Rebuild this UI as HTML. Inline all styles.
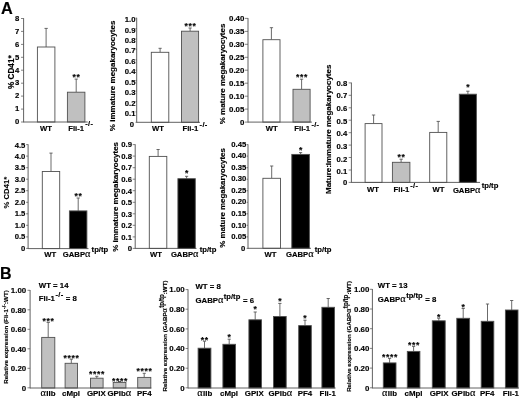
<!DOCTYPE html>
<html><head><meta charset="utf-8"><title>Figure</title>
<style>
html,body{margin:0;padding:0;background:#fff;}
svg{display:block;}
svg text{font-family:"Liberation Sans",sans-serif;font-weight:bold;fill:#000;stroke:#000;stroke-width:0.15px;}
</style></head><body>
<svg width="520" height="398" viewBox="0 0 520 398">
<rect width="520" height="398" fill="#fff"/>
<text x="1.1" y="13.6" font-size="16.3" text-anchor="start" >A</text>
<text x="0.1" y="279.4" font-size="16" text-anchor="start" >B</text>
<line x1="21.0" y1="18.5" x2="23.6" y2="18.5" stroke="#666" stroke-width="0.8"/>
<text x="19.3" y="20.8" font-size="7.7" text-anchor="end" >8</text>
<line x1="21.0" y1="31.4" x2="23.6" y2="31.4" stroke="#666" stroke-width="0.8"/>
<text x="19.3" y="33.7" font-size="7.7" text-anchor="end" >7</text>
<line x1="21.0" y1="44.4" x2="23.6" y2="44.4" stroke="#666" stroke-width="0.8"/>
<text x="19.3" y="46.6" font-size="7.7" text-anchor="end" >6</text>
<line x1="21.0" y1="57.3" x2="23.6" y2="57.3" stroke="#666" stroke-width="0.8"/>
<text x="19.3" y="59.6" font-size="7.7" text-anchor="end" >5</text>
<line x1="21.0" y1="70.2" x2="23.6" y2="70.2" stroke="#666" stroke-width="0.8"/>
<text x="19.3" y="72.5" font-size="7.7" text-anchor="end" >4</text>
<line x1="21.0" y1="83.2" x2="23.6" y2="83.2" stroke="#666" stroke-width="0.8"/>
<text x="19.3" y="85.4" font-size="7.7" text-anchor="end" >3</text>
<line x1="21.0" y1="96.1" x2="23.6" y2="96.1" stroke="#666" stroke-width="0.8"/>
<text x="19.3" y="98.4" font-size="7.7" text-anchor="end" >2</text>
<line x1="21.0" y1="109.1" x2="23.6" y2="109.1" stroke="#666" stroke-width="0.8"/>
<text x="19.3" y="111.3" font-size="7.7" text-anchor="end" >1</text>
<line x1="21.0" y1="122.0" x2="23.6" y2="122.0" stroke="#666" stroke-width="0.8"/>
<text x="19.3" y="124.3" font-size="7.7" text-anchor="end" >0</text>
<line x1="46.1" y1="28.4" x2="46.1" y2="47.0" stroke="#505050" stroke-width="0.85"/>
<line x1="44.5" y1="28.4" x2="47.8" y2="28.4" stroke="#505050" stroke-width="0.85"/>
<rect x="37.4" y="47.0" width="17.5" height="75.0" fill="#fff" stroke="#505050" stroke-width="0.9"/>
<line x1="76.2" y1="79.1" x2="76.2" y2="92.2" stroke="#505050" stroke-width="0.85"/>
<line x1="74.6" y1="79.1" x2="77.8" y2="79.1" stroke="#505050" stroke-width="0.85"/>
<rect x="67.4" y="92.2" width="17.5" height="29.8" fill="#c0c0c0" stroke="#505050" stroke-width="0.9"/>
<text x="76.5" y="79.9" font-size="8.6" text-anchor="middle" letter-spacing="0.65" stroke="none">**</text>
<line x1="23.6" y1="18.2" x2="23.6" y2="122.4" stroke="#505050" stroke-width="0.9"/>
<line x1="23.6" y1="122.0" x2="87.7" y2="122.0" stroke="#505050" stroke-width="0.9"/>
<text transform="translate(13.6,72.2) rotate(-90)" font-size="8.2" text-anchor="middle">% CD41*</text>
<text x="45.9" y="130.5" font-size="7.7" text-anchor="middle" >WT</text>
<text x="68.2" y="130.5" font-size="7.7" text-anchor="start" >Fli-1<tspan dy="-4.3" dx="1.3" font-size="7.5" letter-spacing="0.3">-/-</tspan></text>
<line x1="135.5" y1="18.1" x2="136.7" y2="18.1" stroke="#666" stroke-width="0.8"/>
<text x="135.5" y="22.2" font-size="7.7" text-anchor="end" >1.0</text>
<line x1="135.5" y1="28.5" x2="136.7" y2="28.5" stroke="#666" stroke-width="0.8"/>
<text x="135.5" y="32.6" font-size="7.7" text-anchor="end" >0.9</text>
<line x1="135.5" y1="38.9" x2="136.7" y2="38.9" stroke="#666" stroke-width="0.8"/>
<text x="135.5" y="43.0" font-size="7.7" text-anchor="end" >0.8</text>
<line x1="135.5" y1="49.4" x2="136.7" y2="49.4" stroke="#666" stroke-width="0.8"/>
<text x="135.5" y="53.4" font-size="7.7" text-anchor="end" >0.7</text>
<line x1="135.5" y1="59.8" x2="136.7" y2="59.8" stroke="#666" stroke-width="0.8"/>
<text x="135.5" y="63.8" font-size="7.7" text-anchor="end" >0.6</text>
<line x1="135.5" y1="70.2" x2="136.7" y2="70.2" stroke="#666" stroke-width="0.8"/>
<text x="135.5" y="74.3" font-size="7.7" text-anchor="end" >0.4</text>
<line x1="135.5" y1="80.6" x2="136.7" y2="80.6" stroke="#666" stroke-width="0.8"/>
<text x="135.5" y="84.7" font-size="7.7" text-anchor="end" >0.5</text>
<line x1="135.5" y1="91.0" x2="136.7" y2="91.0" stroke="#666" stroke-width="0.8"/>
<text x="135.5" y="95.1" font-size="7.7" text-anchor="end" >0.3</text>
<line x1="135.5" y1="101.5" x2="136.7" y2="101.5" stroke="#666" stroke-width="0.8"/>
<text x="135.5" y="105.5" font-size="7.7" text-anchor="end" >0.2</text>
<line x1="135.5" y1="111.9" x2="136.7" y2="111.9" stroke="#666" stroke-width="0.8"/>
<text x="135.5" y="115.9" font-size="7.7" text-anchor="end" >0.1</text>
<line x1="135.5" y1="122.3" x2="136.7" y2="122.3" stroke="#666" stroke-width="0.8"/>
<text x="134.1" y="126.6" font-size="7.7" text-anchor="end" >0</text>
<line x1="160.1" y1="48.3" x2="160.1" y2="52.3" stroke="#505050" stroke-width="0.85"/>
<line x1="158.5" y1="48.3" x2="161.7" y2="48.3" stroke="#505050" stroke-width="0.85"/>
<rect x="151.3" y="52.3" width="17.5" height="70.0" fill="#fff" stroke="#505050" stroke-width="0.9"/>
<line x1="190.1" y1="28.0" x2="190.1" y2="31.2" stroke="#505050" stroke-width="0.85"/>
<line x1="188.5" y1="28.0" x2="191.7" y2="28.0" stroke="#505050" stroke-width="0.85"/>
<rect x="181.5" y="31.2" width="17.1" height="91.1" fill="#c0c0c0" stroke="#505050" stroke-width="0.9"/>
<text x="190.4" y="28.6" font-size="8.6" text-anchor="middle" letter-spacing="0.65" stroke="none">***</text>
<line x1="136.7" y1="17.8" x2="136.7" y2="122.7" stroke="#505050" stroke-width="0.9"/>
<line x1="136.7" y1="122.3" x2="200.0" y2="122.3" stroke="#505050" stroke-width="0.9"/>
<text transform="translate(115.4,75.9) rotate(-90)" font-size="8.02" text-anchor="middle">% immature megakaryocytes</text>
<text x="158.0" y="130.8" font-size="7.7" text-anchor="middle" >WT</text>
<text x="182.5" y="130.8" font-size="7.7" text-anchor="start" >Fli-1<tspan dy="-4.3" dx="1.3" font-size="7.5" letter-spacing="0.3">-/-</tspan></text>
<line x1="245.0" y1="18.4" x2="248.0" y2="18.4" stroke="#666" stroke-width="0.8"/>
<text x="244.4" y="21.2" font-size="7.9" text-anchor="end" >0.40</text>
<line x1="245.0" y1="31.4" x2="248.0" y2="31.4" stroke="#666" stroke-width="0.8"/>
<text x="244.4" y="34.2" font-size="7.9" text-anchor="end" >0.35</text>
<line x1="245.0" y1="44.3" x2="248.0" y2="44.3" stroke="#666" stroke-width="0.8"/>
<text x="244.4" y="47.2" font-size="7.9" text-anchor="end" >0.30</text>
<line x1="245.0" y1="57.3" x2="248.0" y2="57.3" stroke="#666" stroke-width="0.8"/>
<text x="244.4" y="60.1" font-size="7.9" text-anchor="end" >0.25</text>
<line x1="245.0" y1="70.2" x2="248.0" y2="70.2" stroke="#666" stroke-width="0.8"/>
<text x="244.4" y="73.1" font-size="7.9" text-anchor="end" >0.20</text>
<line x1="245.0" y1="83.2" x2="248.0" y2="83.2" stroke="#666" stroke-width="0.8"/>
<text x="244.4" y="86.0" font-size="7.9" text-anchor="end" >0.15</text>
<line x1="245.0" y1="96.2" x2="248.0" y2="96.2" stroke="#666" stroke-width="0.8"/>
<text x="244.4" y="99.0" font-size="7.9" text-anchor="end" >0.10</text>
<line x1="245.0" y1="109.1" x2="248.0" y2="109.1" stroke="#666" stroke-width="0.8"/>
<text x="244.4" y="112.0" font-size="7.9" text-anchor="end" >0.05</text>
<line x1="245.0" y1="122.1" x2="248.0" y2="122.1" stroke="#666" stroke-width="0.8"/>
<text x="244.4" y="124.9" font-size="7.9" text-anchor="end" >0</text>
<line x1="271.4" y1="27.7" x2="271.4" y2="39.7" stroke="#505050" stroke-width="0.85"/>
<line x1="269.8" y1="27.7" x2="273.1" y2="27.7" stroke="#505050" stroke-width="0.85"/>
<rect x="262.9" y="39.7" width="17.1" height="82.4" fill="#fff" stroke="#505050" stroke-width="0.9"/>
<line x1="301.6" y1="79.2" x2="301.6" y2="89.3" stroke="#505050" stroke-width="0.85"/>
<line x1="299.9" y1="79.2" x2="303.2" y2="79.2" stroke="#505050" stroke-width="0.85"/>
<rect x="293.0" y="89.3" width="17.1" height="32.8" fill="#c0c0c0" stroke="#505050" stroke-width="0.9"/>
<text x="301.9" y="80.1" font-size="8.6" text-anchor="middle" letter-spacing="0.65" stroke="none">***</text>
<line x1="248.0" y1="18.1" x2="248.0" y2="122.5" stroke="#505050" stroke-width="0.9"/>
<line x1="248.0" y1="122.1" x2="311.9" y2="122.1" stroke="#505050" stroke-width="0.9"/>
<text transform="translate(225.3,73.9) rotate(-90)" font-size="7.98" text-anchor="middle">% mature megakaryocytes</text>
<text x="271.7" y="130.8" font-size="7.7" text-anchor="middle" >WT</text>
<text x="294.3" y="130.8" font-size="7.7" text-anchor="start" >Fli-1<tspan dy="-4.3" dx="1.3" font-size="7.5" letter-spacing="0.3">-/-</tspan></text>
<line x1="348.7" y1="82.9" x2="351.4" y2="82.9" stroke="#666" stroke-width="0.8"/>
<text x="347.2" y="85.8" font-size="7.7" text-anchor="end" >0.8</text>
<line x1="348.7" y1="95.3" x2="351.4" y2="95.3" stroke="#666" stroke-width="0.8"/>
<text x="347.2" y="98.4" font-size="7.7" text-anchor="end" >0.7</text>
<line x1="348.7" y1="107.8" x2="351.4" y2="107.8" stroke="#666" stroke-width="0.8"/>
<text x="347.2" y="111.1" font-size="7.7" text-anchor="end" >0.6</text>
<line x1="348.7" y1="120.2" x2="351.4" y2="120.2" stroke="#666" stroke-width="0.8"/>
<text x="347.2" y="123.7" font-size="7.7" text-anchor="end" >0.5</text>
<line x1="348.7" y1="132.7" x2="351.4" y2="132.7" stroke="#666" stroke-width="0.8"/>
<text x="347.2" y="136.4" font-size="7.7" text-anchor="end" >0.4</text>
<line x1="348.7" y1="145.1" x2="351.4" y2="145.1" stroke="#666" stroke-width="0.8"/>
<text x="347.2" y="149.1" font-size="7.7" text-anchor="end" >0.3</text>
<line x1="348.7" y1="157.5" x2="351.4" y2="157.5" stroke="#666" stroke-width="0.8"/>
<text x="347.2" y="161.7" font-size="7.7" text-anchor="end" >0.2</text>
<line x1="348.7" y1="170.0" x2="351.4" y2="170.0" stroke="#666" stroke-width="0.8"/>
<text x="347.2" y="174.4" font-size="7.7" text-anchor="end" >0.1</text>
<line x1="348.7" y1="182.4" x2="351.4" y2="182.4" stroke="#666" stroke-width="0.8"/>
<text x="347.2" y="185.2" font-size="7.7" text-anchor="end" >0</text>
<line x1="373.6" y1="115.0" x2="373.6" y2="123.6" stroke="#505050" stroke-width="0.85"/>
<line x1="371.9" y1="115.0" x2="375.2" y2="115.0" stroke="#505050" stroke-width="0.85"/>
<rect x="365.1" y="123.6" width="16.9" height="58.8" fill="#fff" stroke="#505050" stroke-width="0.9"/>
<line x1="401.1" y1="159.2" x2="401.1" y2="162.3" stroke="#505050" stroke-width="0.85"/>
<line x1="399.5" y1="159.2" x2="402.8" y2="159.2" stroke="#505050" stroke-width="0.85"/>
<rect x="392.4" y="162.3" width="17.5" height="20.1" fill="#c0c0c0" stroke="#505050" stroke-width="0.9"/>
<text x="401.4" y="159.5" font-size="8.6" text-anchor="middle" letter-spacing="0.65" stroke="none">**</text>
<line x1="438.2" y1="121.4" x2="438.2" y2="132.4" stroke="#505050" stroke-width="0.85"/>
<line x1="436.6" y1="121.4" x2="439.9" y2="121.4" stroke="#505050" stroke-width="0.85"/>
<rect x="429.7" y="132.4" width="17.1" height="50.0" fill="#fff" stroke="#505050" stroke-width="0.9"/>
<line x1="467.9" y1="91.2" x2="467.9" y2="94.2" stroke="#505050" stroke-width="0.85"/>
<line x1="466.2" y1="91.2" x2="469.5" y2="91.2" stroke="#505050" stroke-width="0.85"/>
<rect x="459.3" y="94.2" width="17.1" height="88.2" fill="#000" stroke="#505050" stroke-width="0.9"/>
<text x="468.2" y="89.9" font-size="8.6" text-anchor="middle" letter-spacing="0.65" stroke="none">*</text>
<line x1="351.4" y1="82.6" x2="351.4" y2="182.8" stroke="#505050" stroke-width="0.9"/>
<line x1="351.4" y1="182.4" x2="480.0" y2="182.4" stroke="#505050" stroke-width="0.9"/>
<text transform="translate(331.3,129.3) rotate(-90)" font-size="7.97" text-anchor="middle">Mature:immature megakaryocytes</text>
<text x="372.9" y="192.3" font-size="7.7" text-anchor="middle" >WT</text>
<text x="393.6" y="192.3" font-size="7.7" text-anchor="start" >Fli-1<tspan dy="-4.3" dx="0.9" font-size="7.5" letter-spacing="0.3">-/-</tspan></text>
<text x="438.5" y="192.3" font-size="7.7" text-anchor="middle" >WT</text>
<text x="452.9" y="192.5" font-size="7.7" text-anchor="start" >GABP<tspan font-family="Liberation Serif,serif" font-weight="normal" font-size="10.3" letter-spacing="0.4">α</tspan><tspan dy="-4.6" dx="0.8" font-size="7.7" letter-spacing="0">tp/tp</tspan></text>
<line x1="26.1" y1="144.6" x2="28.1" y2="144.6" stroke="#666" stroke-width="0.8"/>
<text x="25.4" y="147.5" font-size="7.7" text-anchor="end" >4.5</text>
<line x1="26.1" y1="156.1" x2="28.1" y2="156.1" stroke="#666" stroke-width="0.8"/>
<text x="25.4" y="158.9" font-size="7.7" text-anchor="end" >4.0</text>
<line x1="26.1" y1="167.7" x2="28.1" y2="167.7" stroke="#666" stroke-width="0.8"/>
<text x="25.4" y="170.4" font-size="7.7" text-anchor="end" >3.5</text>
<line x1="26.1" y1="179.2" x2="28.1" y2="179.2" stroke="#666" stroke-width="0.8"/>
<text x="25.4" y="181.8" font-size="7.7" text-anchor="end" >3.0</text>
<line x1="26.1" y1="190.7" x2="28.1" y2="190.7" stroke="#666" stroke-width="0.8"/>
<text x="25.4" y="193.3" font-size="7.7" text-anchor="end" >2.5</text>
<line x1="26.1" y1="202.3" x2="28.1" y2="202.3" stroke="#666" stroke-width="0.8"/>
<text x="25.4" y="204.8" font-size="7.7" text-anchor="end" >2.0</text>
<line x1="26.1" y1="213.8" x2="28.1" y2="213.8" stroke="#666" stroke-width="0.8"/>
<text x="25.4" y="216.2" font-size="7.7" text-anchor="end" >1.5</text>
<line x1="26.1" y1="225.3" x2="28.1" y2="225.3" stroke="#666" stroke-width="0.8"/>
<text x="25.4" y="227.7" font-size="7.7" text-anchor="end" >1.0</text>
<line x1="26.1" y1="236.9" x2="28.1" y2="236.9" stroke="#666" stroke-width="0.8"/>
<text x="25.4" y="239.1" font-size="7.7" text-anchor="end" >0.5</text>
<line x1="26.1" y1="248.4" x2="28.1" y2="248.4" stroke="#666" stroke-width="0.8"/>
<text x="25.4" y="250.8" font-size="7.7" text-anchor="end" >0</text>
<line x1="51.0" y1="153.1" x2="51.0" y2="171.5" stroke="#505050" stroke-width="0.85"/>
<line x1="49.4" y1="153.1" x2="52.6" y2="153.1" stroke="#505050" stroke-width="0.85"/>
<rect x="42.3" y="171.5" width="17.4" height="77.1" fill="#fff" stroke="#505050" stroke-width="0.9"/>
<line x1="78.2" y1="198.0" x2="78.2" y2="210.9" stroke="#505050" stroke-width="0.85"/>
<line x1="76.6" y1="198.0" x2="79.8" y2="198.0" stroke="#505050" stroke-width="0.85"/>
<rect x="69.4" y="210.9" width="17.5" height="37.7" fill="#000" stroke="#505050" stroke-width="0.9"/>
<text x="78.5" y="198.7" font-size="8.6" text-anchor="middle" letter-spacing="0.65" stroke="none">**</text>
<line x1="28.1" y1="144.3" x2="28.1" y2="249.0" stroke="#505050" stroke-width="0.9"/>
<line x1="28.1" y1="248.6" x2="88.5" y2="248.6" stroke="#505050" stroke-width="0.9"/>
<text transform="translate(9.2,192.6) rotate(-90)" font-size="7.7" text-anchor="middle">% CD41*</text>
<text x="50.3" y="256.6" font-size="7.7" text-anchor="middle" >WT</text>
<text x="62.8" y="256.6" font-size="7.7" text-anchor="start" >GABP<tspan font-family="Liberation Serif,serif" font-weight="normal" font-size="10.3" letter-spacing="0.4">α</tspan><tspan dy="-4.6" dx="0.8" font-size="7.7" letter-spacing="0">tp/tp</tspan></text>
<line x1="132.7" y1="144.6" x2="135.2" y2="144.6" stroke="#666" stroke-width="0.8"/>
<text x="132.0" y="147.4" font-size="7.7" text-anchor="end" >0.9</text>
<line x1="132.7" y1="156.1" x2="135.2" y2="156.1" stroke="#666" stroke-width="0.8"/>
<text x="132.0" y="158.9" font-size="7.7" text-anchor="end" >0.8</text>
<line x1="132.7" y1="167.7" x2="135.2" y2="167.7" stroke="#666" stroke-width="0.8"/>
<text x="132.0" y="170.4" font-size="7.7" text-anchor="end" >0.7</text>
<line x1="132.7" y1="179.2" x2="135.2" y2="179.2" stroke="#666" stroke-width="0.8"/>
<text x="132.0" y="182.0" font-size="7.7" text-anchor="end" >0.6</text>
<line x1="132.7" y1="190.7" x2="135.2" y2="190.7" stroke="#666" stroke-width="0.8"/>
<text x="132.0" y="193.5" font-size="7.7" text-anchor="end" >0.4</text>
<line x1="132.7" y1="202.3" x2="135.2" y2="202.3" stroke="#666" stroke-width="0.8"/>
<text x="132.0" y="205.0" font-size="7.7" text-anchor="end" >0.5</text>
<line x1="132.7" y1="213.8" x2="135.2" y2="213.8" stroke="#666" stroke-width="0.8"/>
<text x="132.0" y="216.6" font-size="7.7" text-anchor="end" >0.3</text>
<line x1="132.7" y1="225.3" x2="135.2" y2="225.3" stroke="#666" stroke-width="0.8"/>
<text x="132.0" y="228.1" font-size="7.7" text-anchor="end" >0.2</text>
<line x1="132.7" y1="236.9" x2="135.2" y2="236.9" stroke="#666" stroke-width="0.8"/>
<text x="132.0" y="239.6" font-size="7.7" text-anchor="end" >0.1</text>
<line x1="132.7" y1="248.4" x2="135.2" y2="248.4" stroke="#666" stroke-width="0.8"/>
<text x="132.0" y="251.2" font-size="7.7" text-anchor="end" >0</text>
<line x1="158.1" y1="149.5" x2="158.1" y2="156.4" stroke="#505050" stroke-width="0.85"/>
<line x1="156.5" y1="149.5" x2="159.7" y2="149.5" stroke="#505050" stroke-width="0.85"/>
<rect x="149.3" y="156.4" width="17.5" height="92.0" fill="#fff" stroke="#505050" stroke-width="0.9"/>
<line x1="186.6" y1="176.3" x2="186.6" y2="178.7" stroke="#505050" stroke-width="0.85"/>
<line x1="185.0" y1="176.3" x2="188.2" y2="176.3" stroke="#505050" stroke-width="0.85"/>
<rect x="177.9" y="178.7" width="17.4" height="69.7" fill="#000" stroke="#505050" stroke-width="0.9"/>
<text x="186.9" y="175.8" font-size="8.6" text-anchor="middle" letter-spacing="0.65" stroke="none">*</text>
<line x1="135.2" y1="144.3" x2="135.2" y2="248.8" stroke="#505050" stroke-width="0.9"/>
<line x1="135.2" y1="248.4" x2="196.5" y2="248.4" stroke="#505050" stroke-width="0.9"/>
<text transform="translate(117.6,196.9) rotate(-90)" font-size="7.97" text-anchor="middle">% immature megakaryocytes</text>
<text x="155.9" y="256.6" font-size="7.7" text-anchor="middle" >WT</text>
<text x="170.9" y="256.6" font-size="7.7" text-anchor="start" >GABP<tspan font-family="Liberation Serif,serif" font-weight="normal" font-size="10.3" letter-spacing="0.4">α</tspan><tspan dy="-4.6" dx="0.8" font-size="7.7" letter-spacing="0">tp/tp</tspan></text>
<line x1="246.6" y1="144.6" x2="248.0" y2="144.6" stroke="#666" stroke-width="0.8"/>
<text x="246.2" y="146.8" font-size="7.7" text-anchor="end" >0.45</text>
<line x1="246.6" y1="156.1" x2="248.0" y2="156.1" stroke="#666" stroke-width="0.8"/>
<text x="246.2" y="158.3" font-size="7.7" text-anchor="end" >0.40</text>
<line x1="246.6" y1="167.7" x2="248.0" y2="167.7" stroke="#666" stroke-width="0.8"/>
<text x="246.2" y="169.8" font-size="7.7" text-anchor="end" >0.35</text>
<line x1="246.6" y1="179.2" x2="248.0" y2="179.2" stroke="#666" stroke-width="0.8"/>
<text x="246.2" y="181.4" font-size="7.7" text-anchor="end" >0.30</text>
<line x1="246.6" y1="190.7" x2="248.0" y2="190.7" stroke="#666" stroke-width="0.8"/>
<text x="246.2" y="192.9" font-size="7.7" text-anchor="end" >0.25</text>
<line x1="246.6" y1="202.3" x2="248.0" y2="202.3" stroke="#666" stroke-width="0.8"/>
<text x="246.2" y="204.4" font-size="7.7" text-anchor="end" >0.20</text>
<line x1="246.6" y1="213.8" x2="248.0" y2="213.8" stroke="#666" stroke-width="0.8"/>
<text x="246.2" y="216.0" font-size="7.7" text-anchor="end" >0.15</text>
<line x1="246.6" y1="225.3" x2="248.0" y2="225.3" stroke="#666" stroke-width="0.8"/>
<text x="246.2" y="227.5" font-size="7.7" text-anchor="end" >0.10</text>
<line x1="246.6" y1="236.9" x2="248.0" y2="236.9" stroke="#666" stroke-width="0.8"/>
<text x="246.2" y="239.0" font-size="7.7" text-anchor="end" >0.05</text>
<line x1="246.6" y1="248.4" x2="248.0" y2="248.4" stroke="#666" stroke-width="0.8"/>
<text x="245.2" y="250.9" font-size="7.7" text-anchor="end" >0</text>
<line x1="271.7" y1="166.0" x2="271.7" y2="178.3" stroke="#505050" stroke-width="0.85"/>
<line x1="270.1" y1="166.0" x2="273.3" y2="166.0" stroke="#505050" stroke-width="0.85"/>
<rect x="262.9" y="178.3" width="17.6" height="70.0" fill="#fff" stroke="#505050" stroke-width="0.9"/>
<line x1="300.6" y1="152.6" x2="300.6" y2="154.4" stroke="#505050" stroke-width="0.85"/>
<line x1="299.0" y1="152.6" x2="302.2" y2="152.6" stroke="#505050" stroke-width="0.85"/>
<rect x="291.8" y="154.4" width="17.6" height="93.9" fill="#000" stroke="#505050" stroke-width="0.9"/>
<text x="300.9" y="153.2" font-size="8.6" text-anchor="middle" letter-spacing="0.65" stroke="none">*</text>
<line x1="248.0" y1="144.3" x2="248.0" y2="248.7" stroke="#505050" stroke-width="0.9"/>
<line x1="248.0" y1="248.3" x2="311.0" y2="248.3" stroke="#505050" stroke-width="0.9"/>
<text transform="translate(225.0,197.9) rotate(-90)" font-size="7.9" text-anchor="middle">% mature megakaryocytes</text>
<text x="270.4" y="256.6" font-size="7.7" text-anchor="middle" >WT</text>
<text x="286.0" y="256.6" font-size="7.7" text-anchor="start" >GABP<tspan font-family="Liberation Serif,serif" font-weight="normal" font-size="10.3" letter-spacing="0.4">α</tspan><tspan dy="-4.6" dx="0.8" font-size="7.7" letter-spacing="0">tp/tp</tspan></text>
<line x1="27.5" y1="290.3" x2="30.1" y2="290.3" stroke="#666" stroke-width="0.8"/>
<text x="26.2" y="293.1" font-size="7.9" text-anchor="end" >1.00</text>
<line x1="27.5" y1="309.8" x2="30.1" y2="309.8" stroke="#666" stroke-width="0.8"/>
<text x="26.2" y="312.6" font-size="7.9" text-anchor="end" >0.80</text>
<line x1="27.5" y1="329.3" x2="30.1" y2="329.3" stroke="#666" stroke-width="0.8"/>
<text x="26.2" y="332.1" font-size="7.9" text-anchor="end" >0.60</text>
<line x1="27.5" y1="348.8" x2="30.1" y2="348.8" stroke="#666" stroke-width="0.8"/>
<text x="26.2" y="351.6" font-size="7.9" text-anchor="end" >0.40</text>
<line x1="27.5" y1="368.3" x2="30.1" y2="368.3" stroke="#666" stroke-width="0.8"/>
<text x="26.2" y="371.1" font-size="7.9" text-anchor="end" >0.20</text>
<line x1="27.5" y1="387.8" x2="30.1" y2="387.8" stroke="#666" stroke-width="0.8"/>
<text x="26.2" y="390.6" font-size="7.9" text-anchor="end" >0</text>
<line x1="48.2" y1="322.4" x2="48.2" y2="337.4" stroke="#505050" stroke-width="0.85"/>
<line x1="46.6" y1="322.4" x2="49.9" y2="322.4" stroke="#505050" stroke-width="0.85"/>
<rect x="41.7" y="337.4" width="13.1" height="50.6" fill="#c0c0c0" stroke="#505050" stroke-width="0.9"/>
<text x="48.5" y="323.9" font-size="8.6" text-anchor="middle" letter-spacing="0.65" stroke="none">***</text>
<line x1="71.3" y1="359.2" x2="71.3" y2="363.3" stroke="#505050" stroke-width="0.85"/>
<line x1="69.7" y1="359.2" x2="72.9" y2="359.2" stroke="#505050" stroke-width="0.85"/>
<rect x="65.1" y="363.3" width="12.4" height="24.7" fill="#c0c0c0" stroke="#505050" stroke-width="0.9"/>
<text x="71.6" y="361.3" font-size="8.6" text-anchor="middle" letter-spacing="0.65" stroke="none">****</text>
<line x1="96.8" y1="376.3" x2="96.8" y2="378.2" stroke="#505050" stroke-width="0.85"/>
<line x1="95.2" y1="376.3" x2="98.4" y2="376.3" stroke="#505050" stroke-width="0.85"/>
<rect x="90.5" y="378.2" width="12.6" height="9.8" fill="#c0c0c0" stroke="#505050" stroke-width="0.9"/>
<text x="97.1" y="376.6" font-size="8.6" text-anchor="middle" letter-spacing="0.65" stroke="none">****</text>
<line x1="119.6" y1="381.5" x2="119.6" y2="382.4" stroke="#505050" stroke-width="0.85"/>
<line x1="118.0" y1="381.5" x2="121.2" y2="381.5" stroke="#505050" stroke-width="0.85"/>
<rect x="113.2" y="382.4" width="12.7" height="5.6" fill="#c0c0c0" stroke="#505050" stroke-width="0.9"/>
<text x="119.9" y="383.7" font-size="8.6" text-anchor="middle" letter-spacing="0.65" stroke="none">****</text>
<line x1="144.2" y1="373.3" x2="144.2" y2="377.4" stroke="#505050" stroke-width="0.85"/>
<line x1="142.7" y1="373.3" x2="145.8" y2="373.3" stroke="#505050" stroke-width="0.85"/>
<rect x="137.7" y="377.4" width="13.1" height="10.6" fill="#c0c0c0" stroke="#505050" stroke-width="0.9"/>
<text x="144.6" y="374.2" font-size="8.6" text-anchor="middle" letter-spacing="0.65" stroke="none">****</text>
<line x1="30.1" y1="290.0" x2="30.1" y2="388.4" stroke="#505050" stroke-width="0.9"/>
<line x1="30.1" y1="388.0" x2="151.4" y2="388.0" stroke="#505050" stroke-width="0.9"/>
<text transform="translate(8.4,337.0) rotate(-90)" font-size="6.2" text-anchor="middle">Relative expression (Fli-1<tspan dy="-2.5" font-size="5.5">-/-</tspan><tspan dy="2.5">:WT)</tspan></text>
<text x="48.0" y="395.5" font-size="7.9" text-anchor="middle" ><tspan font-family="Liberation Serif,serif" font-weight="normal" font-size="10.3" letter-spacing="0.4">α</tspan>IIb</text>
<text x="71.0" y="395.5" font-size="7.9" text-anchor="middle" >cMpl</text>
<text x="96.4" y="395.5" font-size="7.9" text-anchor="middle" >GPIX</text>
<text x="119.5" y="395.5" font-size="7.9" text-anchor="middle" >GPIb<tspan font-family="Liberation Serif,serif" font-weight="normal" font-size="10.3" letter-spacing="0.4">α</tspan></text>
<text x="144.3" y="395.5" font-size="7.9" text-anchor="middle" >PF4</text>
<text x="38.8" y="287.6" font-size="7.8" text-anchor="start" >WT = 14</text>
<text x="38.8" y="300.8" font-size="7.8" text-anchor="start" >Fli-1<tspan dy="-4.3" dx="0.6" font-size="7.6" letter-spacing="0.35">-/-</tspan><tspan dy="4.3"> = 8</tspan></text>
<line x1="185.6" y1="289.6" x2="188.0" y2="289.6" stroke="#666" stroke-width="0.8"/>
<text x="184.7" y="292.4" font-size="7.9" text-anchor="end" >1.00</text>
<line x1="185.6" y1="309.2" x2="188.0" y2="309.2" stroke="#666" stroke-width="0.8"/>
<text x="184.7" y="312.1" font-size="7.9" text-anchor="end" >0.80</text>
<line x1="185.6" y1="328.9" x2="188.0" y2="328.9" stroke="#666" stroke-width="0.8"/>
<text x="184.7" y="331.7" font-size="7.9" text-anchor="end" >0.60</text>
<line x1="185.6" y1="348.5" x2="188.0" y2="348.5" stroke="#666" stroke-width="0.8"/>
<text x="184.7" y="351.3" font-size="7.9" text-anchor="end" >0.40</text>
<line x1="185.6" y1="368.2" x2="188.0" y2="368.2" stroke="#666" stroke-width="0.8"/>
<text x="184.7" y="371.0" font-size="7.9" text-anchor="end" >0.20</text>
<line x1="185.6" y1="387.8" x2="188.0" y2="387.8" stroke="#666" stroke-width="0.8"/>
<text x="184.7" y="390.6" font-size="7.9" text-anchor="end" >0</text>
<line x1="204.5" y1="341.2" x2="204.5" y2="348.2" stroke="#505050" stroke-width="0.85"/>
<line x1="202.9" y1="341.2" x2="206.1" y2="341.2" stroke="#505050" stroke-width="0.85"/>
<rect x="198.1" y="348.2" width="12.8" height="39.8" fill="#000" stroke="#505050" stroke-width="0.9"/>
<text x="204.8" y="343.3" font-size="8.6" text-anchor="middle" letter-spacing="0.65" stroke="none">**</text>
<line x1="229.2" y1="339.2" x2="229.2" y2="344.3" stroke="#505050" stroke-width="0.85"/>
<line x1="227.6" y1="339.2" x2="230.8" y2="339.2" stroke="#505050" stroke-width="0.85"/>
<rect x="222.9" y="344.3" width="12.6" height="43.7" fill="#000" stroke="#505050" stroke-width="0.9"/>
<text x="229.5" y="340.1" font-size="8.6" text-anchor="middle" letter-spacing="0.65" stroke="none">*</text>
<line x1="255.2" y1="312.0" x2="255.2" y2="319.8" stroke="#505050" stroke-width="0.85"/>
<line x1="253.6" y1="312.0" x2="256.8" y2="312.0" stroke="#505050" stroke-width="0.85"/>
<rect x="248.9" y="319.8" width="12.6" height="68.2" fill="#000" stroke="#505050" stroke-width="0.9"/>
<text x="255.5" y="312.3" font-size="8.6" text-anchor="middle" letter-spacing="0.65" stroke="none">*</text>
<line x1="279.9" y1="303.4" x2="279.9" y2="316.5" stroke="#505050" stroke-width="0.85"/>
<line x1="278.2" y1="303.4" x2="281.5" y2="303.4" stroke="#505050" stroke-width="0.85"/>
<rect x="273.5" y="316.5" width="12.7" height="71.5" fill="#000" stroke="#505050" stroke-width="0.9"/>
<text x="280.2" y="304.0" font-size="8.6" text-anchor="middle" letter-spacing="0.65" stroke="none">*</text>
<line x1="305.0" y1="320.2" x2="305.0" y2="325.6" stroke="#505050" stroke-width="0.85"/>
<line x1="303.4" y1="320.2" x2="306.6" y2="320.2" stroke="#505050" stroke-width="0.85"/>
<rect x="298.7" y="325.6" width="12.6" height="62.4" fill="#000" stroke="#505050" stroke-width="0.9"/>
<text x="305.3" y="321.1" font-size="8.6" text-anchor="middle" letter-spacing="0.65" stroke="none">*</text>
<line x1="328.2" y1="298.5" x2="328.2" y2="307.3" stroke="#505050" stroke-width="0.85"/>
<line x1="326.6" y1="298.5" x2="329.8" y2="298.5" stroke="#505050" stroke-width="0.85"/>
<rect x="321.9" y="307.3" width="12.6" height="80.7" fill="#000" stroke="#505050" stroke-width="0.9"/>
<line x1="188.0" y1="289.3" x2="188.0" y2="388.4" stroke="#505050" stroke-width="0.9"/>
<line x1="188.0" y1="388.0" x2="335.6" y2="388.0" stroke="#505050" stroke-width="0.9"/>
<text transform="translate(167.2,336.0) rotate(-90)" font-size="6.13" text-anchor="middle">Relative expression (GABP<tspan font-family="Liberation Serif,serif" font-weight="normal" font-size="8.1" letter-spacing="0.4">α</tspan><tspan dy="-3.2" font-size="6.3">tp/tp</tspan><tspan dy="3.2">:WT)</tspan></text>
<text x="204.8" y="395.5" font-size="7.9" text-anchor="middle" ><tspan font-family="Liberation Serif,serif" font-weight="normal" font-size="10.3" letter-spacing="0.4">α</tspan>IIb</text>
<text x="229.0" y="395.5" font-size="7.9" text-anchor="middle" >cMpl</text>
<text x="254.3" y="395.5" font-size="7.9" text-anchor="middle" >GPIX</text>
<text x="280.5" y="395.5" font-size="7.9" text-anchor="middle" >GPIb<tspan font-family="Liberation Serif,serif" font-weight="normal" font-size="10.3" letter-spacing="0.4">α</tspan></text>
<text x="304.9" y="395.5" font-size="7.9" text-anchor="middle" >PF4</text>
<text x="327.7" y="395.5" font-size="7.9" text-anchor="middle" >Fli-1</text>
<text x="195.5" y="289.1" font-size="7.8" text-anchor="start" >WT = 8</text>
<text x="195.5" y="302.7" font-size="7.8" text-anchor="start" >GABP<tspan font-family="Liberation Serif,serif" font-weight="normal" font-size="10.3" letter-spacing="0.4">α</tspan><tspan dy="-3.4" font-size="7.6">tp/tp</tspan><tspan dy="3.4" dx="0.5"> = 6</tspan></text>
<line x1="370.0" y1="289.3" x2="372.4" y2="289.3" stroke="#666" stroke-width="0.8"/>
<text x="369.4" y="292.1" font-size="7.9" text-anchor="end" >1.00</text>
<line x1="370.0" y1="309.0" x2="372.4" y2="309.0" stroke="#666" stroke-width="0.8"/>
<text x="369.4" y="311.8" font-size="7.9" text-anchor="end" >0.80</text>
<line x1="370.0" y1="328.7" x2="372.4" y2="328.7" stroke="#666" stroke-width="0.8"/>
<text x="369.4" y="331.5" font-size="7.9" text-anchor="end" >0.60</text>
<line x1="370.0" y1="348.4" x2="372.4" y2="348.4" stroke="#666" stroke-width="0.8"/>
<text x="369.4" y="351.2" font-size="7.9" text-anchor="end" >0.40</text>
<line x1="370.0" y1="368.1" x2="372.4" y2="368.1" stroke="#666" stroke-width="0.8"/>
<text x="369.4" y="370.9" font-size="7.9" text-anchor="end" >0.20</text>
<line x1="370.0" y1="387.8" x2="372.4" y2="387.8" stroke="#666" stroke-width="0.8"/>
<text x="369.4" y="390.6" font-size="7.9" text-anchor="end" >0</text>
<line x1="389.6" y1="358.4" x2="389.6" y2="362.9" stroke="#505050" stroke-width="0.85"/>
<line x1="388.0" y1="358.4" x2="391.2" y2="358.4" stroke="#505050" stroke-width="0.85"/>
<rect x="383.3" y="362.9" width="12.7" height="25.1" fill="#000" stroke="#505050" stroke-width="0.9"/>
<text x="389.9" y="359.5" font-size="8.6" text-anchor="middle" letter-spacing="0.65" stroke="none">****</text>
<line x1="413.6" y1="346.4" x2="413.6" y2="351.4" stroke="#505050" stroke-width="0.85"/>
<line x1="412.0" y1="346.4" x2="415.2" y2="346.4" stroke="#505050" stroke-width="0.85"/>
<rect x="407.3" y="351.4" width="12.6" height="36.6" fill="#000" stroke="#505050" stroke-width="0.9"/>
<text x="413.9" y="347.5" font-size="8.6" text-anchor="middle" letter-spacing="0.65" stroke="none">***</text>
<line x1="438.8" y1="318.2" x2="438.8" y2="320.8" stroke="#505050" stroke-width="0.85"/>
<line x1="437.1" y1="318.2" x2="440.4" y2="318.2" stroke="#505050" stroke-width="0.85"/>
<rect x="432.3" y="320.8" width="12.9" height="67.2" fill="#000" stroke="#505050" stroke-width="0.9"/>
<text x="439.1" y="319.6" font-size="8.6" text-anchor="middle" letter-spacing="0.65" stroke="none">*</text>
<line x1="463.2" y1="308.5" x2="463.2" y2="318.3" stroke="#505050" stroke-width="0.85"/>
<line x1="461.6" y1="308.5" x2="464.8" y2="308.5" stroke="#505050" stroke-width="0.85"/>
<rect x="456.8" y="318.3" width="12.8" height="69.7" fill="#000" stroke="#505050" stroke-width="0.9"/>
<text x="463.5" y="310.1" font-size="8.6" text-anchor="middle" letter-spacing="0.65" stroke="none">*</text>
<line x1="487.5" y1="304.0" x2="487.5" y2="321.3" stroke="#505050" stroke-width="0.85"/>
<line x1="485.9" y1="304.0" x2="489.1" y2="304.0" stroke="#505050" stroke-width="0.85"/>
<rect x="481.2" y="321.3" width="12.6" height="66.7" fill="#000" stroke="#505050" stroke-width="0.9"/>
<line x1="511.7" y1="300.5" x2="511.7" y2="310.0" stroke="#505050" stroke-width="0.85"/>
<line x1="510.1" y1="300.5" x2="513.3" y2="300.5" stroke="#505050" stroke-width="0.85"/>
<rect x="505.4" y="310.0" width="12.6" height="78.0" fill="#000" stroke="#505050" stroke-width="0.9"/>
<line x1="372.4" y1="289.0" x2="372.4" y2="388.4" stroke="#505050" stroke-width="0.9"/>
<line x1="372.4" y1="388.0" x2="519.0" y2="388.0" stroke="#505050" stroke-width="0.9"/>
<text transform="translate(350.8,336.4) rotate(-90)" font-size="6.13" text-anchor="middle">Relative expression (GABP<tspan font-family="Liberation Serif,serif" font-weight="normal" font-size="8.1" letter-spacing="0.4">α</tspan><tspan dy="-3.2" font-size="6.3">tp/tp</tspan><tspan dy="3.2">:WT)</tspan></text>
<text x="389.5" y="395.5" font-size="7.9" text-anchor="middle" ><tspan font-family="Liberation Serif,serif" font-weight="normal" font-size="10.3" letter-spacing="0.4">α</tspan>IIb</text>
<text x="413.5" y="395.5" font-size="7.9" text-anchor="middle" >cMpl</text>
<text x="439.1" y="395.5" font-size="7.9" text-anchor="middle" >GPIX</text>
<text x="463.6" y="395.5" font-size="7.9" text-anchor="middle" >GPIb<tspan font-family="Liberation Serif,serif" font-weight="normal" font-size="10.3" letter-spacing="0.4">α</tspan></text>
<text x="487.2" y="395.5" font-size="7.9" text-anchor="middle" >PF4</text>
<text x="510.8" y="395.5" font-size="7.9" text-anchor="middle" >Fli-1</text>
<text x="377.8" y="288.2" font-size="7.8" text-anchor="start" >WT = 13</text>
<text x="377.8" y="301.8" font-size="7.8" text-anchor="start" >GABP<tspan font-family="Liberation Serif,serif" font-weight="normal" font-size="10.3" letter-spacing="0.4">α</tspan><tspan dy="-3.4" font-size="7.6">tp/tp</tspan><tspan dy="3.4" dx="0.5"> = 8</tspan></text>
</svg>
</body></html>
